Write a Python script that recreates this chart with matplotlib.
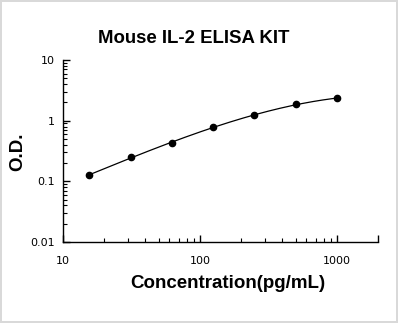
import numpy as np
import matplotlib
matplotlib.use("Agg")
import matplotlib.pyplot as plt
from matplotlib.ticker import FixedLocator, NullFormatter

conc = [15.6, 31.25, 62.5, 125, 250, 500, 1000]
od = [0.127, 0.25, 0.43, 0.78, 1.24, 1.85, 2.35]
xticks = [10, 100, 1000]
xtick_labels = ["10", "100", "1000"]
yticks = [0.01, 0.1, 1, 10]
ytick_labels = ["0.01", "0.1", "1", "10"]

W, H = 398, 323
fig = plt.figure(figsize=(W / 100, H / 100), dpi=100)
fig.patch.set_edgecolor("#d9d9d9")
fig.patch.set_linewidth(1.5)
ax = fig.add_axes([0.158, 0.251, 0.792, 0.563])

# smooth fit curve in log-log space
lx = np.log10(conc)
ly = np.log10(od)
coef = np.polyfit(lx, ly, 3)
xs = np.linspace(lx[0], lx[-1], 200)
ax.plot(10 ** xs, 10 ** np.polyval(coef, xs), color="black", lw=0.9)
ax.plot(conc, od, "o", color="black", ms=4.5)

ax.set_xscale("log")
ax.set_yscale("log")
ax.set_xlim(10, 2000)
ax.set_ylim(0.01, 10)

for s in ["top", "right"]:
    ax.spines[s].set_visible(False)
ax.spines["left"].set_linewidth(1)
ax.spines["bottom"].set_linewidth(1)

ax.xaxis.set_major_locator(FixedLocator(xticks + [2000]))
ax.set_xticklabels(xtick_labels + [""])
minx = [m * d for d in (10, 100) for m in range(2, 10)]
ax.xaxis.set_minor_locator(FixedLocator(minx))
ax.xaxis.set_minor_formatter(NullFormatter())
ax.yaxis.set_major_locator(FixedLocator(yticks))
ax.set_yticklabels(ytick_labels)
miny = [m * d for d in (0.01, 0.1, 1) for m in range(2, 10)]
ax.yaxis.set_minor_locator(FixedLocator(miny))
ax.yaxis.set_minor_formatter(NullFormatter())

ax.tick_params(which="major", direction="in", length=5, width=1, labelsize=8)
ax.tick_params(which="minor", direction="in", length=3, width=0.8)
ax.tick_params(axis="x", pad=10)
ax.tick_params(axis="y", pad=6)

fig.text(194 / W, 1 - 38.5 / H, "Mouse IL-2 ELISA KIT", fontsize=13.4,
         fontweight="bold", family="Liberation Sans", ha="center", va="center")
fig.text(228 / W, 1 - 284 / H, "Concentration(pg/mL)", fontsize=13.5,
         fontweight="bold", family="Liberation Sans", ha="center", va="center")
fig.text(18 / W, 1 - 152 / H, "O.D.", fontsize=13.5, rotation=90,
         fontweight="bold", family="Liberation Sans", ha="center", va="center")

fig.savefig("out.png", dpi=100)
